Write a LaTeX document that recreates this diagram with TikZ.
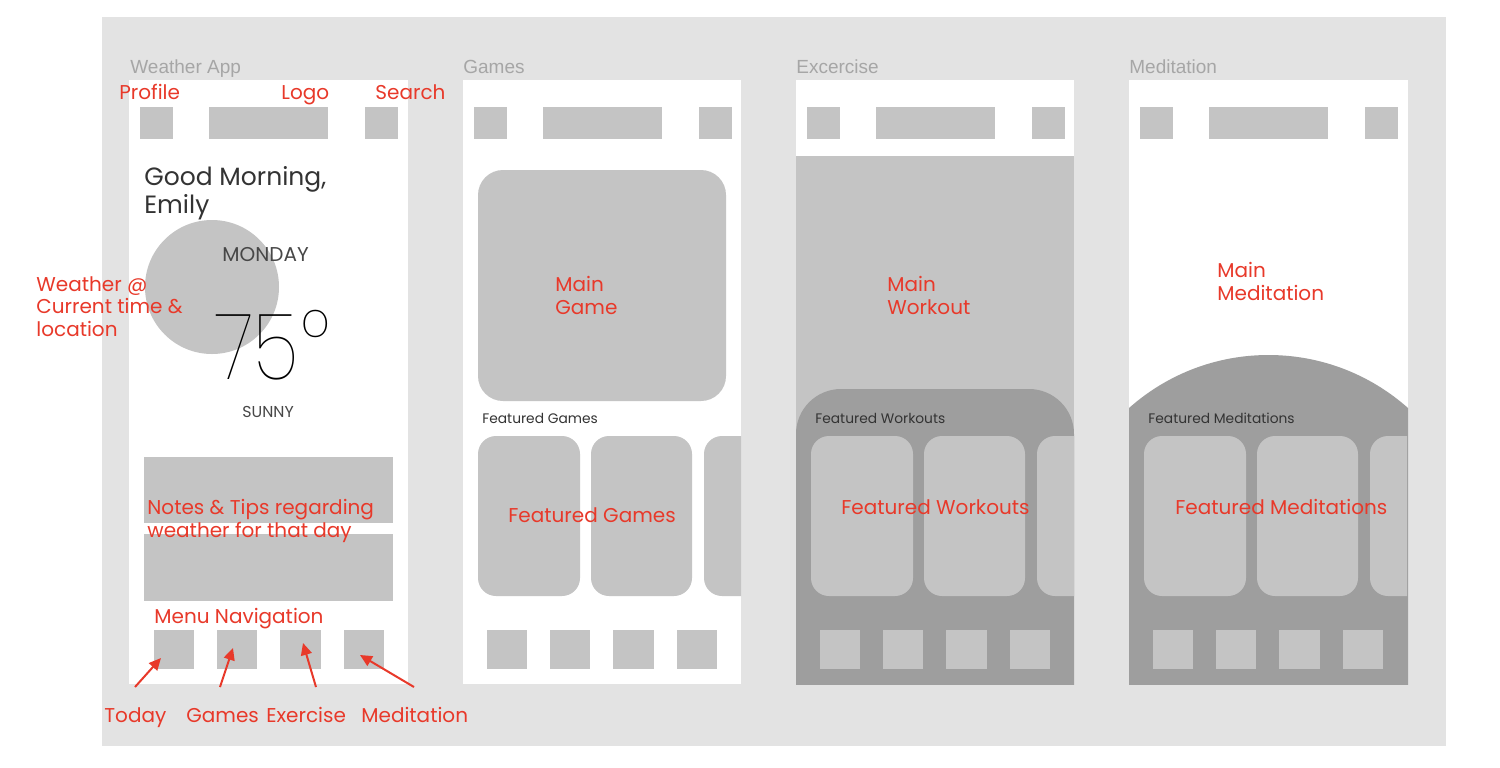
\documentclass[tikz,border=0pt]{standalone}
\usepackage{fontspec}
\setmainfont{Poppins}
\newfontfamily\thinfont{Poppins Thin}
\newfontfamily\titlefont{Liberation Sans}
\usetikzlibrary{arrows.meta}
\definecolor{bggray}{HTML}{E3E3E3}
\definecolor{boxgray}{HTML}{C4C4C4}
\definecolor{panelgray}{HTML}{9E9E9E}
\definecolor{titlegray}{HTML}{A6A6A6}
\definecolor{ink}{HTML}{333333}
\definecolor{redlabel}{HTML}{E8392A}
\newcommand\hdrboxes[1]{%
  \fill[boxgray] (#1+11,107) rectangle (#1+44,139);
  \fill[boxgray] (#1+80,107) rectangle (#1+199,139);
  \fill[boxgray] (#1+236,107) rectangle (#1+269,139);}
\newcommand\navboxes[1]{%
  \fill[boxgray] (#1+25,630) rectangle (#1+65,669);
  \fill[boxgray] (#1+88,630) rectangle (#1+128,669);
  \fill[boxgray] (#1+151,630) rectangle (#1+192,669);
  \fill[boxgray] (#1+215,630) rectangle (#1+255,669);}
\newcommand\cards[1]{%
  \begin{scope}
  \clip (#1,80) rectangle (#1+278,684);
  \fill[boxgray, rounded corners=9pt] (#1+15,436) rectangle (#1+117,596);
  \fill[boxgray, rounded corners=9pt] (#1+128,436) rectangle (#1+229,596);
  \fill[boxgray, rounded corners=9pt] (#1+241,436) rectangle (#1+342,596);
  \end{scope}}
\begin{document}
\begin{tikzpicture}[x=0.5pt,y=-0.5pt,
  lbl/.style={text=redlabel, font=\fontsize{10}{11.5}\selectfont, inner sep=0pt, anchor=base west, align=left},
  ttl/.style={text=titlegray, font=\titlefont\fontsize{9.5}{11}\selectfont, inner sep=0pt, anchor=base west},
  sm/.style={text=ink, font=\fontsize{6.9}{8}\selectfont, inner sep=0pt, anchor=base west},
  arr/.style={draw=redlabel, fill=redlabel, line width=1pt, -{Triangle[length=6pt,width=5.5pt]}},
  ]
\useasboundingbox (0,0) rectangle (1500,767);
\fill[white] (0,0) rectangle (1500,767);
\fill[bggray] (102,17) rectangle (1446,746);

% titles
\node[ttl] (t1) at (130,73) {Weather App};
\node[ttl] (t2) at (463,73) {Games};
\node[ttl] (t3) at (796,73) {Excercise};
\node[ttl] (t4) at (1129,73) {Meditation};

% ---------------- phone 1
\fill[white] (129,80) rectangle (408,684);
\hdrboxes{129}
\fill[boxgray] (212,287) circle[radius=33.5pt];
\node[inner sep=0pt, anchor=base west, text=ink, align=left, font=\fontsize{12.5}{14}\selectfont] (greet) at (144,213) {Good Morning,\\Emily};
\node[inner sep=0pt, anchor=base west, text=ink!90, font=\fontsize{10}{12}\selectfont] (day) at (222,261) {MONDAY};
\node[inner sep=0pt, anchor=base west, text=black, text depth=0pt, font=\thinfont\fontsize{46}{46}\selectfont] (temp) at (215,379) {\scalebox{0.83}[1]{75}\kern1.5pt\raisebox{7pt}{\fontsize{40}{40}\selectfont °}};
\node[inner sep=0pt, anchor=base west, text=ink!90, font=\fontsize{7.9}{9}\selectfont] (sky) at (242,417) {SUNNY};
\fill[boxgray] (144,457) rectangle (393,523);
\fill[boxgray] (144,534) rectangle (393,601);
\navboxes{129}

\node[lbl] (profile) at (119,99) {Profile};
\node[lbl] (logo) at (281,99) {Logo};
\node[lbl] (search) at (375,99) {Search};
\node[lbl, font=\fontsize{10}{11.25}\selectfont] (weather) at (36,336) {Weather @\\Current time \&\\location};
\node[lbl] (notes) at (147,537) {Notes \& Tips regarding\\weather for that day};
\node[lbl] (menu) at (154,623) {Menu Navigation};
\node[lbl] (today) at (104,722) {Today};
\node[lbl] (games) at (186,722) {Games};
\node[lbl] (exercise) at (266,722) {Exercise};
\node[lbl] (medit) at (361,722) {Meditation};

\coordinate (aS1) at (135,687); \coordinate (aE1) at (161,658);
\coordinate (aS2) at (220,687); \coordinate (aE2) at (233,648);
\coordinate (aS3) at (316,687); \coordinate (aE3) at (303,643);
\coordinate (aS4) at (414,687); \coordinate (aE4) at (360,655);
\draw[arr] (aS1) -- (aE1);
\draw[arr] (aS2) -- (aE2);
\draw[arr] (aS3) -- (aE3);
\draw[arr] (aS4) -- (aE4);

% ---------------- phone 2
\fill[white] (463,80) rectangle (741,684);
\hdrboxes{463}
\fill[boxgray, rounded corners=12.5pt] (478,170) rectangle (726,401);
\cards{463}
\navboxes{462}
\node[sm] (fg) at (482,423) {Featured Games};
\node[lbl] (maingame) at (555,314) {Main\\Game};
\node[lbl] (featgames) at (508,522) {Featured Games};

% ---------------- phone 3
\fill[white] (796,80) rectangle (1074,156);
\fill[boxgray] (796,156) rectangle (1074,684);
\begin{scope}
\clip (796,80) rectangle (1074,684);
\fill[panelgray, rounded corners=22.5pt] (796,389) rectangle (1074,760);
\end{scope}
\hdrboxes{796}
\cards{796}
\navboxes{795}
\node[sm] (fw) at (815,423) {Featured Workouts};
\node[lbl] (mainwork) at (887,314) {Main\\Workout};
\node[lbl] (featwork) at (841,514) {Featured Workouts};

% ---------------- phone 4
\fill[white] (1129,80) rectangle (1408,684);
\begin{scope}
\clip (1129,80) rectangle (1408,684);
\fill[panelgray] (1268.5,565) circle[radius=105pt];
\end{scope}
\hdrboxes{1129}
\cards{1129}
\navboxes{1128}
\node[sm] (fm) at (1148,423) {Featured Meditations};
\node[lbl] (mainmed) at (1217,300) {Main\\Meditation};
\node[lbl] (featmed) at (1175,514) {Featured Meditations};
\end{tikzpicture}
\end{document}
